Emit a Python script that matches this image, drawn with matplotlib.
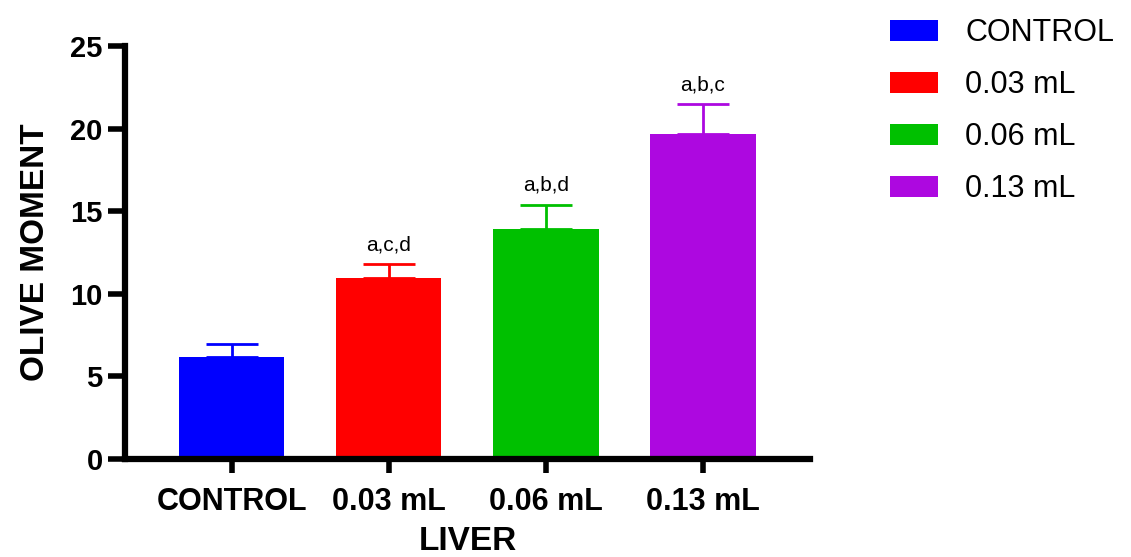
import matplotlib.pyplot as plt
from matplotlib.patches import Patch

plt.rcParams['font.family'] = ['Liberation Sans', 'DejaVu Sans']

groups = ['CONTROL', '0.03 mL', '0.06 mL', '0.13 mL']
means = [6.15, 10.95, 13.9, 19.7]
sems = [0.8, 0.85, 1.5, 1.8]
letters = ['', 'a,c,d', 'a,b,d', 'a,b,c']
colors = ['#0000FF', '#FF0000', '#00C000', '#AD08E0']

fig = plt.figure(figsize=(11.31, 5.57), dpi=100)
ax = fig.add_axes([0.1105, 0.176, 0.6055, 0.741])

x = range(len(groups))
ax.bar(x, means, width=0.67, color=colors, zorder=2)

# upper error bars only, same colour as bar
for i in x:
    ax.errorbar(i, means[i], yerr=[[0], [sems[i]]], color=colors[i],
                capsize=19, capthick=2, elinewidth=2, zorder=1)
    if letters[i]:
        ax.text(i, means[i] + sems[i] + 0.6, letters[i], ha='center',
                va='bottom', fontsize=15)

ax.set_xlim(-0.68, 3.68)
ax.set_ylim(0, 25)
ax.set_yticks([0, 5, 10, 15, 20, 25])
ax.set_xticks(list(x))
ax.set_xticklabels(groups)

for side in ['top', 'right']:
    ax.spines[side].set_visible(False)
for side in ['left', 'bottom']:
    ax.spines[side].set_linewidth(4.5)

ax.tick_params(axis='y', length=12, width=4, labelsize=21, pad=4)
ax.tick_params(axis='x', length=10, width=4, labelsize=22, pad=10)
for lab in ax.get_xticklabels() + ax.get_yticklabels():
    lab.set_fontweight('bold')

ax.set_ylabel('OLIVE MOMENT', fontsize=24, fontweight='bold', labelpad=14)
ax.set_xlabel('LIVER', fontsize=24, fontweight='bold', labelpad=7)

handles = [Patch(facecolor=c) for c in colors]
fig.legend(handles, groups, loc='upper left', bbox_to_anchor=(0.771, 1.0),
           frameon=False, fontsize=22, handlelength=1.55, handleheight=0.65,
           handletextpad=0.9, labelspacing=0.72, borderpad=0.1)

plt.savefig('out.png', dpi=100)
plt.close()
